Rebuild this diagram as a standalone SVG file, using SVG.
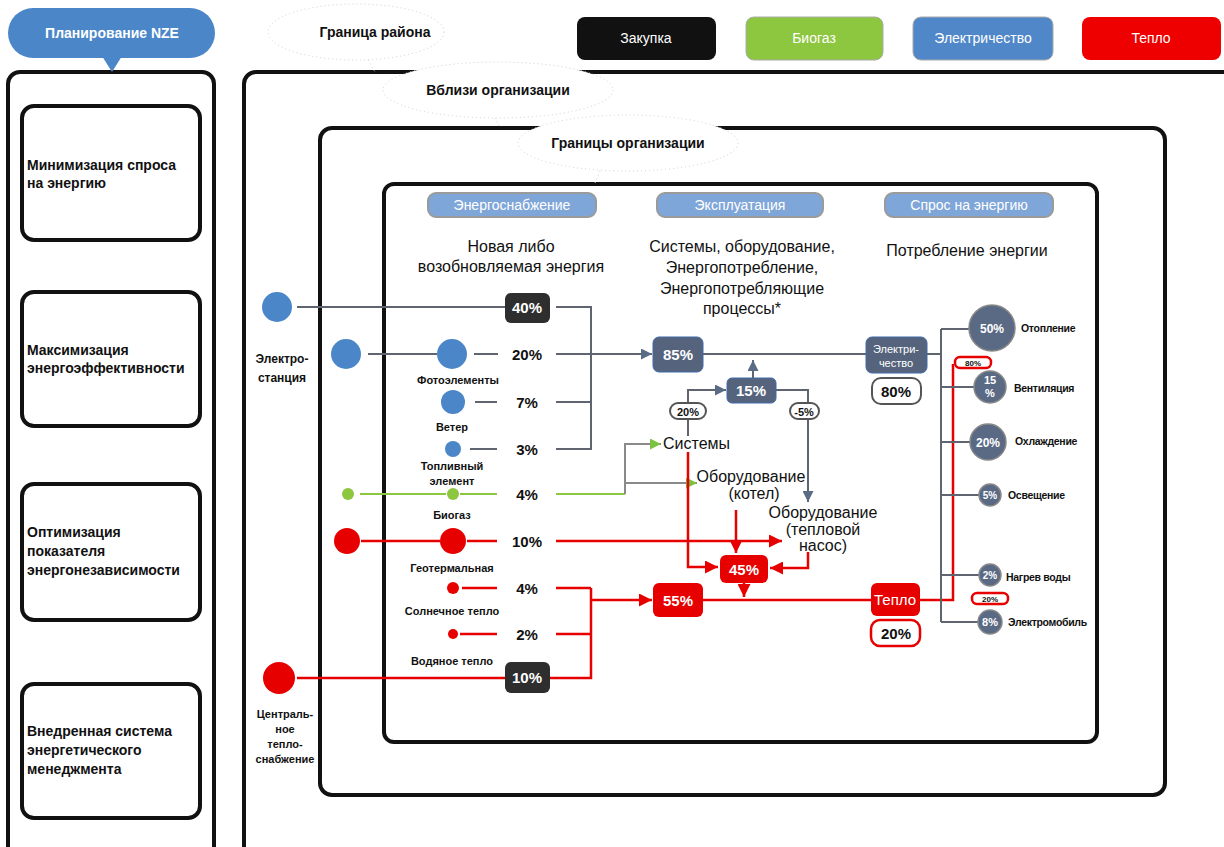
<svg xmlns="http://www.w3.org/2000/svg" width="1224" height="847" viewBox="0 0 1224 847">
<defs>
<style>
text{font-family:"Liberation Sans",Arial,sans-serif;}
.frame{fill:none;stroke:#111;stroke-width:4;}
.box{fill:#fff;stroke:#111;stroke-width:4;}
.lt{font-size:14px;font-weight:bold;fill:#111;}
.cloud{fill:#fff;stroke:#cfcfcf;stroke-width:1;stroke-dasharray:1 3;}
.ct{font-size:14px;font-weight:bold;fill:#111;text-anchor:middle;}
.leg{font-size:14px;fill:#fff;text-anchor:middle;}
.sec{fill:#7fa6d8;stroke:#9a9a9a;stroke-width:2;}
.sect{font-size:14px;fill:#fff;text-anchor:middle;}
.sub{font-size:16px;fill:#111;text-anchor:middle;}
.pct{font-size:15px;font-weight:bold;fill:#111;text-anchor:middle;}
.wpct{font-size:15px;font-weight:bold;fill:#fff;text-anchor:middle;}
.sm{font-size:11px;font-weight:bold;fill:#111;text-anchor:middle;}
.rl{font-size:10.5px;font-weight:bold;fill:#111;letter-spacing:-0.3px;}
.blue{fill:#4a86c8;}
.green{fill:#8dc63f;}
.red{fill:#e60000;}
.slate{fill:#55647c;stroke:#3f6aa8;stroke-width:1;}
.dc{fill:#5a6a85;stroke:#888;stroke-width:1.5;}
.black{fill:#2e2e2e;}
.redbox{fill:#e60000;}
.wpill{fill:#fff;stroke:#555;stroke-width:2;}
.rpill{fill:#fff;stroke:#e60000;stroke-width:2.5;}
.g{fill:none;stroke:#5e6570;stroke-width:2;}
.gr{fill:none;stroke:#8dc63f;stroke-width:2;}
.gg{fill:none;stroke:#8a8a8a;stroke-width:2;}
.r{fill:none;stroke:#e60000;stroke-width:2.5;}
</style>
<marker id="ag" viewBox="0 0 10 10" refX="10" refY="5" markerWidth="11" markerHeight="11" markerUnits="userSpaceOnUse" orient="auto"><path d="M0,0 L10,5 L0,10 z" fill="#5a6b85"/></marker>
<marker id="agr" viewBox="0 0 10 10" refX="10" refY="5" markerWidth="11" markerHeight="11" markerUnits="userSpaceOnUse" orient="auto"><path d="M0,0 L10,5 L0,10 z" fill="#7cc242"/></marker>
<marker id="ar" viewBox="0 0 10 10" refX="10" refY="5" markerWidth="13" markerHeight="13" markerUnits="userSpaceOnUse" orient="auto"><path d="M0,0 L10,5 L0,10 z" fill="#e60000"/></marker>
</defs>
<rect x="0" y="0" width="1224" height="847" fill="#fff"/>

<!-- Left panel -->
<g id="nze-planning">
<rect x="8" y="72" width="206" height="800" rx="12" class="frame"/>
<rect x="8" y="8" width="207" height="50" rx="25" fill="#4a86c8"/>
<path d="M102,56 L122,56 L112,72 z" fill="#4a86c8"/>
<text x="112" y="38" class="leg" style="font-weight:bold">Планирование NZE</text>
</g>
<g id="goal-1">
<rect x="22" y="106" width="178" height="134" rx="12" class="box"/>
<text x="27" y="170" class="lt">Минимизация спроса</text>
<text x="27" y="188" class="lt">на энергию</text>
</g>
<g id="goal-2">
<rect x="22" y="292" width="178" height="134" rx="12" class="box"/>
<text x="27" y="355" class="lt">Максимизация</text>
<text x="27" y="373" class="lt">энергоэффективности</text>
</g>
<g id="goal-3">
<rect x="22" y="484" width="178" height="136" rx="12" class="box"/>
<text x="27" y="537" class="lt">Оптимизация</text>
<text x="27" y="556" class="lt">показателя</text>
<text x="27" y="575" class="lt">энергонезависимости</text>
</g>
<g id="goal-4">
<rect x="22" y="684" width="178" height="134" rx="12" class="box"/>
<text x="27" y="736" class="lt">Внедренная система</text>
<text x="27" y="755" class="lt">энергетического</text>
<text x="27" y="774" class="lt">менеджмента</text>
</g>

<!-- Frames -->
<g id="district-frame"><rect x="244" y="72" width="1000" height="800" rx="12" class="frame"/></g>
<g id="org-frame"><rect x="320" y="128" width="845" height="667" rx="12" class="frame"/></g>
<g id="inner-frame"><rect x="384" y="184" width="713" height="558" rx="10" class="frame"/></g>

<!-- Clouds -->
<g id="cloud-district">
<ellipse cx="356" cy="32" rx="88" ry="28" class="cloud"/>
<path d="M368,60 L375,72" class="cloud"/>
<text x="375" y="37" class="ct">Граница района</text>
</g>
<g id="cloud-near">
<ellipse cx="498" cy="90" rx="115" ry="28" class="cloud"/>
<path d="M495,118 L500,128" class="cloud"/>
<text x="498" y="95" class="ct">Вблизи организации</text>
</g>
<g id="cloud-org">
<ellipse cx="628" cy="143" rx="110" ry="28" class="cloud"/>
<path d="M600,171 L595,183" class="cloud"/>
<text x="628" y="148" class="ct">Границы организации</text>
</g>

<!-- Legend -->
<g id="legend-purchase"><rect x="577" y="17" width="139" height="43" rx="8" fill="#111"/><text x="646" y="43" class="leg">Закупка</text></g>
<g id="legend-biogas"><rect x="746" y="17" width="137" height="43" rx="8" fill="#8dc63f" stroke="#aaa"/><text x="814" y="43" class="leg">Биогаз</text></g>
<g id="legend-electricity"><rect x="913" y="17" width="140" height="43" rx="8" fill="#4f87c8" stroke="#aaa"/><text x="983" y="43" class="leg">Электричество</text></g>
<g id="legend-heat"><rect x="1082" y="17" width="139" height="43" rx="8" fill="#ee0000"/><text x="1151" y="43" class="leg">Тепло</text></g>

<!-- Section headers -->
<g id="sec-supply"><rect x="428" y="193" width="168" height="24" rx="8" class="sec"/><text x="512" y="210" class="sect">Энергоснабжение</text>
<text x="511" y="252" class="sub">Новая либо</text><text x="511" y="272" class="sub">возобновляемая энергия</text></g>
<g id="sec-operation"><rect x="657" y="193" width="166" height="24" rx="8" class="sec"/><text x="740" y="210" class="sect">Эксплуатация</text>
<text x="742" y="252" class="sub">Системы, оборудование,</text><text x="742" y="273" class="sub">Энергопотребление,</text><text x="742" y="294" class="sub">Энергопотребляющие</text><text x="742" y="314" class="sub">процессы*</text></g>
<g id="sec-demand"><rect x="885" y="193" width="168" height="24" rx="8" class="sec"/><text x="969" y="210" class="sect">Спрос на энергию</text>
<text x="967" y="256" class="sub">Потребление энергии</text></g>

<!-- Connectors -->
<g id="connectors">
<path d="M297,307 H505" class="g"/>
<path d="M556,307 H591 V449 H556" class="g"/>
<path d="M368,354 H437" class="g"/>
<path d="M474,354 H498" class="g"/>
<path d="M556,354 H652" class="g" marker-end="url(#ag)"/>
<path d="M475,402 H497" class="g"/>
<path d="M556,402 H591" class="g"/>
<path d="M470,449 H497" class="g"/>
<path d="M703,354 H866" class="g"/>
<path d="M753,378 V360" class="g" marker-end="url(#ag)"/>
<path d="M688,436 V390 H726" class="g" marker-end="url(#ag)"/>
<path d="M776,390 H808 V502" class="g" marker-end="url(#ag)"/>
<path d="M360,494 H446" class="gr"/>
<path d="M460,494 H497" class="gr"/>
<path d="M556,494 H625" class="gr"/>
<path d="M625,494 V444 H661" class="gg" marker-end="url(#agr)"/>
<path d="M625,483 H697" class="gg" marker-end="url(#agr)"/>
<path d="M361,541 H440" class="r"/>
<path d="M467,541 H497" class="r"/>
<path d="M556,541 H782" class="r" marker-end="url(#ar)"/>
<path d="M462,588 H497" class="r"/>
<path d="M556,588 H591" class="r"/>
<path d="M460,634 H497" class="r"/>
<path d="M556,634 H591" class="r"/>
<path d="M297,678 H505" class="r"/>
<path d="M550,678 H591 V588" class="r"/>
<path d="M591,600 H652" class="r" marker-end="url(#ar)"/>
<path d="M688,452 V567 H718" class="r" marker-end="url(#ar)"/>
<path d="M736,510 V553" class="r" marker-end="url(#ar)"/>
<path d="M808,552 V568 H770" class="r" marker-end="url(#ar)"/>
<path d="M744,583 V597" class="r" marker-end="url(#ar)"/>
<path d="M703,600 H871" class="r"/>
<path d="M920,600 H953 V364" class="r"/>
<path d="M927,354 H941" class="g"/>
<path d="M941,329 V622" class="g"/>
<path d="M941,329 H969" class="g"/>
<path d="M941,387 H974" class="g"/>
<path d="M941,442 H970" class="g"/>
<path d="M941,495 H979" class="g"/>
<path d="M941,575 H979" class="g"/>
<path d="M941,622 H978" class="g"/>
</g>

<!-- Supply nodes -->
<g id="power-station"><circle cx="277" cy="307" r="15" class="blue"/><text x="282" y="363" class="sm" style="font-size:12px">Электро-</text><text x="282" y="382" class="sm" style="font-size:12px">станция</text></g>
<g id="grid-elec"><circle cx="346" cy="354" r="15" class="blue"/></g>
<g id="p40"><rect x="505" y="293" width="45" height="30" rx="6" class="black"/><text x="527" y="313" class="wpct">40%</text></g>
<g id="pv"><circle cx="452" cy="354" r="15" class="blue"/><text x="458" y="384" class="sm">Фотоэлементы</text><text x="527" y="360" class="pct">20%</text></g>
<g id="wind"><circle cx="453" cy="402" r="12" class="blue"/><text x="452" y="431" class="sm">Ветер</text><text x="527" y="408" class="pct">7%</text></g>
<g id="fuel-cell"><circle cx="453" cy="449" r="8" class="blue"/><text x="452" y="470" class="sm">Топливный</text><text x="452" y="485" class="sm">элемент</text><text x="527" y="455" class="pct">3%</text></g>
<g id="biogas"><circle cx="348" cy="494" r="6" class="green"/><circle cx="453" cy="494" r="6" class="green"/><text x="452" y="519" class="sm">Биогаз</text><text x="527" y="500" class="pct">4%</text></g>
<g id="geothermal"><circle cx="347" cy="541" r="13" class="red"/><circle cx="453" cy="541" r="13" class="red"/><text x="452" y="572" class="sm">Геотермальная</text><text x="527" y="547" class="pct">10%</text></g>
<g id="solar-heat"><circle cx="453" cy="588" r="6" class="red"/><text x="452" y="615" class="sm">Солнечное тепло</text><text x="527" y="594" class="pct">4%</text></g>
<g id="water-heat"><circle cx="453" cy="634" r="5" class="red"/><text x="452" y="665" class="sm">Водяное тепло</text><text x="527" y="640" class="pct">2%</text></g>
<g id="district-heat"><circle cx="279" cy="678" r="16" class="red"/><text x="285" y="718" class="sm">Централь-</text><text x="285" y="733" class="sm">ное</text><text x="285" y="748" class="sm">тепло-</text><text x="285" y="763" class="sm">снабжение</text></g>
<g id="p10"><rect x="505" y="662" width="45" height="31" rx="6" class="black"/><text x="527" y="683" class="wpct">10%</text></g>

<!-- Operation nodes -->
<g id="op85"><rect x="653" y="337" width="50" height="35" rx="6" class="slate"/><text x="678" y="360" class="wpct">85%</text></g>
<g id="op15"><rect x="727" y="378" width="49" height="25" rx="5" class="slate"/><text x="751" y="396" class="wpct">15%</text></g>
<g id="op20"><rect x="670" y="403" width="36" height="16" rx="8" class="wpill"/><text x="688" y="416" class="pct" style="font-size:11px">20%</text></g>
<g id="op-5"><rect x="790" y="403" width="29" height="16" rx="8" class="wpill"/><text x="804" y="416" class="pct" style="font-size:11px">-5%</text></g>
<g id="systems"><text x="663" y="449" style="font-size:16px;fill:#111">Системы</text></g>
<g id="boiler"><text x="751" y="482" class="sub">Оборудование</text><text x="754" y="499" class="sub">(котел)</text></g>
<g id="heatpump"><text x="823" y="518" class="sub">Оборудование</text><text x="823" y="535" class="sub">(тепловой</text><text x="823" y="551" class="sub">насос)</text></g>
<g id="op45"><rect x="720" y="555" width="48" height="28" rx="6" class="redbox"/><text x="744" y="575" class="wpct">45%</text></g>
<g id="op55"><rect x="653" y="583" width="50" height="34" rx="6" class="redbox"/><text x="678" y="606" class="wpct">55%</text></g>

<!-- Demand nodes -->
<g id="dem-elec"><rect x="866" y="337" width="61" height="36" rx="6" class="slate"/><text x="896" y="353" class="wpct" style="font-size:11px;font-weight:normal">Электри-</text><text x="896" y="367" class="wpct" style="font-size:11px;font-weight:normal">чество</text></g>
<g id="dem-elec-80"><rect x="872" y="378" width="49" height="26" rx="9" class="wpill"/><text x="896" y="397" class="pct">80%</text></g>
<g id="dem-heat"><rect x="871" y="583" width="49" height="33" rx="6" class="redbox"/><text x="895" y="605" class="wpct" style="font-weight:normal">Тепло</text></g>
<g id="dem-heat-20"><rect x="871" y="620" width="49" height="26" rx="9" class="rpill"/><text x="896" y="639" class="pct">20%</text></g>
<g id="heat-80"><rect x="955" y="357" width="36" height="11" rx="5" class="rpill"/><text x="973" y="366" class="pct" style="font-size:8px">80%</text></g>
<g id="heat-20"><rect x="972" y="593" width="36" height="11" rx="5" class="rpill"/><text x="990" y="602" class="pct" style="font-size:8px">20%</text></g>
<g id="heating"><circle cx="992" cy="328" r="23" class="dc"/><text x="992" y="333" class="wpct" style="font-size:12px">50%</text><text x="1021" y="332" class="rl">Отопление</text></g>
<g id="ventilation"><circle cx="990" cy="387" r="16" class="dc"/><text x="990" y="384" class="wpct" style="font-size:11px">15</text><text x="990" y="397" class="wpct" style="font-size:11px">%</text><text x="1014" y="392" class="rl">Вентиляция</text></g>
<g id="cooling"><circle cx="988" cy="442" r="18" class="dc"/><text x="988" y="447" class="wpct" style="font-size:12px">20%</text><text x="1015" y="445" class="rl">Охлаждение</text></g>
<g id="lighting"><circle cx="990" cy="495" r="11" class="dc"/><text x="990" y="499" class="wpct" style="font-size:10px">5%</text><text x="1008" y="499" class="rl">Освещение</text></g>
<g id="water-heating"><circle cx="990" cy="575" r="11" class="dc"/><text x="990" y="579" class="wpct" style="font-size:10px">2%</text><text x="1006" y="581" class="rl">Нагрев воды</text></g>
<g id="ev"><circle cx="990" cy="622" r="12" class="dc"/><text x="990" y="626" class="wpct" style="font-size:11px">8%</text><text x="1008" y="626" class="rl">Электромобиль</text></g>
</svg>
